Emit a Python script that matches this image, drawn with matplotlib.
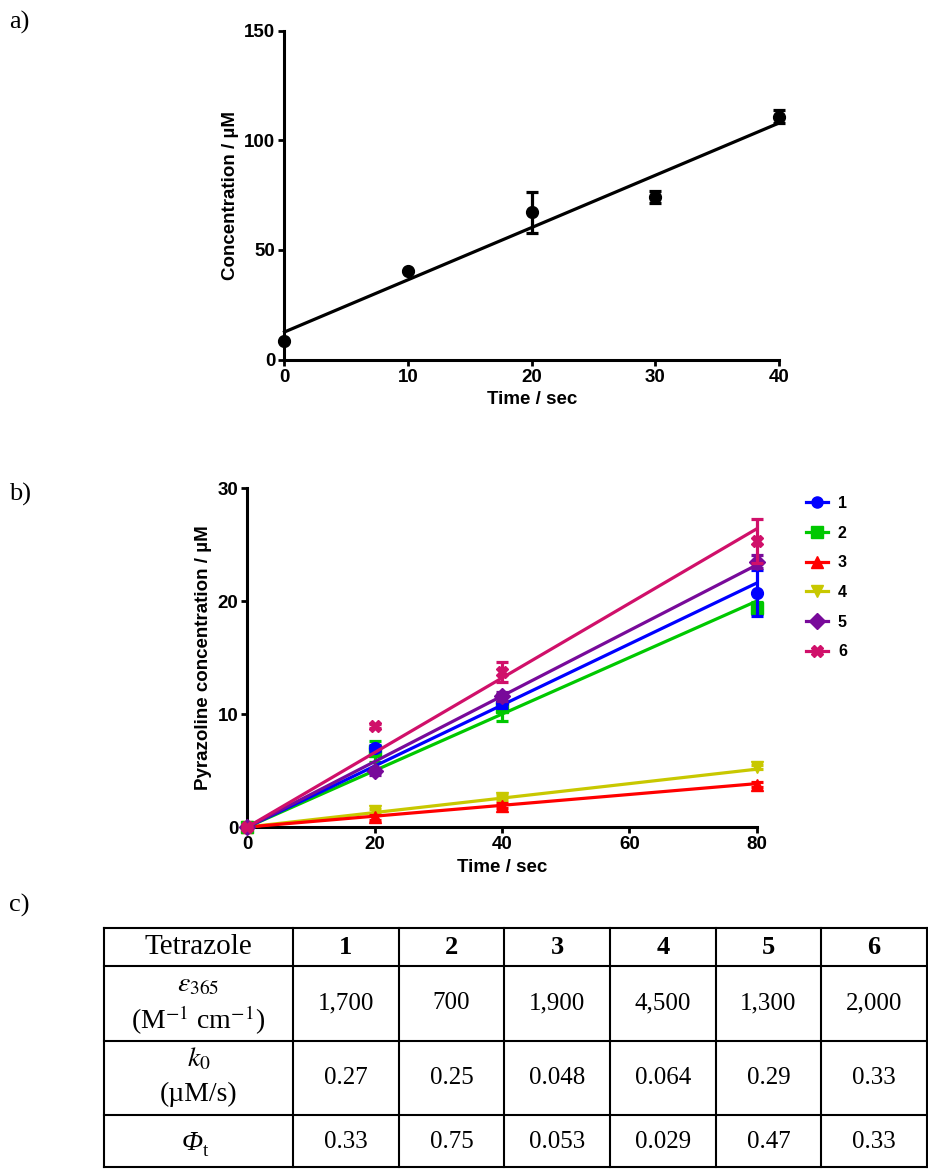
import numpy as np
import matplotlib
matplotlib.use("Agg")
import matplotlib.pyplot as plt
from matplotlib.lines import Line2D

# ---------------- data ----------------
# panel a
time_a = [0, 10, 20, 30, 40]
conc_a = [8.5, 40.5, 67.1, 74.2, 110.8]
err_a = [0.0, 0.0, 9.4, 2.6, 2.9]

# panel b
time_b = [0, 20, 40, 80]
labels_b = ["1", "2", "3", "4", "5", "6"]
conc_1 = [0, 7.0, 11.0, 20.7]
conc_2 = [0, 6.7, 10.6, 19.4]
conc_3 = [0, 0.85, 1.9, 3.75]
conc_4 = [0, 1.4, 2.6, 5.3]
conc_5 = [0, 4.95, 11.6, 23.5]
conc_6 = [0, 8.95, 13.7, 25.3]
err_1 = [0, 0.3, 0.5, 2.05]
err_2 = [0, 0.9, 1.2, 0.5]
err_3 = [0, 0.2, 0.2, 0.2]
err_4 = [0, 0.2, 0.2, 0.2]
err_5 = [0, 0.3, 0.4, 0.6]
err_6 = [0, 0.2, 0.9, 1.95]

# table c
tetrazoles = ["1", "2", "3", "4", "5", "6"]
eps_365 = ["1,700", "700", "1,900", "4,500", "1,300", "2,000"]
k0_vals = [0.27, 0.25, 0.048, 0.064, 0.29, 0.33]
k0_text = ["0.27", "0.25", "0.048", "0.064", "0.29", "0.33"]
phi_t = ["0.33", "0.75", "0.053", "0.029", "0.47", "0.33"]

# ---------------- style ----------------
plt.rcParams["font.family"] = ["Liberation Sans", "DejaVu Sans"]
plt.rcParams["font.weight"] = "normal"
plt.rcParams["mathtext.fontset"] = "stix"

colors_b = ["#0000FF", "#00C800", "#FF0000", "#C8C800", "#780A9A", "#D0106A"]
markers_b = ["o", "s", "^", "v", "D", "X"]

fig = plt.figure(figsize=(9.29, 11.69), dpi=100)

LAB_FS = 13.5
TICK_FS = 13.5

def style_axes(ax, fs):
    for s in ["top", "right"]:
        ax.spines[s].set_visible(False)
    for s in ["left", "bottom"]:
        ax.spines[s].set_linewidth(2.2)
    ax.tick_params(direction="out", length=4.5, width=2.0, labelsize=fs, pad=2)
    for lab in ax.get_xticklabels() + ax.get_yticklabels():
        lab.set_fontweight("bold")

# ---------------- panel a ----------------
axa = fig.add_axes([284.5 / 929, 1 - 359.5 / 1169, (779 - 284.5) / 929, (359.5 - 30.7) / 1169])
slope, intercept = np.polyfit(time_a, conc_a, 1)
xf = np.array([0, 40])
axa.plot(xf, slope * xf + intercept, color="black", lw=2.3, clip_on=False, zorder=3)
axa.errorbar(time_a, conc_a, yerr=err_a, fmt="o", color="black", ms=8.5,
             elinewidth=2.3, capsize=4.5, capthick=2.3, clip_on=False, zorder=4)
axa.set_xlim(0, 40)
axa.set_ylim(0, 150)
axa.set_xticks([0, 10, 20, 30, 40])
axa.set_yticks([0, 50, 100, 150])
axa.set_xlabel("Time / sec", fontsize=LAB_FS, fontweight="bold", labelpad=4)
axa.set_ylabel("Concentration / µM", fontsize=LAB_FS, fontweight="bold", labelpad=4)
style_axes(axa, TICK_FS)

# ---------------- panel b ----------------
axb = fig.add_axes([247.5 / 929, 1 - 827 / 1169, (756.5 - 247.5) / 929, (827 - 488.3) / 1169])
concs = [conc_1, conc_2, conc_3, conc_4, conc_5, conc_6]
errs = [err_1, err_2, err_3, err_4, err_5, err_6]
order = [3, 2, 1, 0, 4, 5]
tf = np.array([0, 80])
handles = []
for i in range(6):
    c = colors_b[i]
    z = 3 + order.index(i)
    axb.plot(tf, k0_vals[i] * tf, color=c, lw=2.3, clip_on=False, zorder=z)
    axb.errorbar(time_b, concs[i], yerr=errs[i], fmt=markers_b[i], color=c, ms=8.5,
                 elinewidth=2.3, capsize=4, capthick=2.3, clip_on=False, zorder=z + 0.5)
    handles.append(Line2D([], [], color=c, marker=markers_b[i], ms=8, lw=2.3))
axb.set_xlim(0, 80)
axb.set_ylim(0, 30)
axb.set_xticks([0, 20, 40, 60, 80])
axb.set_yticks([0, 10, 20, 30])
axb.set_xlabel("Time / sec", fontsize=LAB_FS, fontweight="bold", labelpad=4)
axb.set_ylabel("Pyrazoline concentration / µM", fontsize=LAB_FS, fontweight="bold", labelpad=4)
style_axes(axb, TICK_FS)
leg = fig.legend(handles, labels_b, loc="upper left", bbox_to_anchor=(806 / 929, 1 - 496 / 1169),
                 frameon=False, fontsize=11.5, handlelength=1.4, handletextpad=0.6,
                 labelspacing=0.92, borderaxespad=0, borderpad=0)
for t in leg.get_texts():
    t.set_fontweight("bold")

# ---------------- overlay: panel letters & table ----------------
ov = fig.add_axes([0, 0, 1, 1], zorder=-1)
ov.set_xlim(0, 929)
ov.set_ylim(1169, 0)
ov.axis("off")

serif = ["Liberation Serif", "DejaVu Serif"]
for lab, y in [("a)", 22), ("b)", 494), ("c)", 905)]:
    ov.text(9, y, lab, fontsize=19, family=serif, ha="left", va="center")

col_edges = [104, 293, 398.7, 504.3, 610, 715.7, 821.3, 927]
row_edges = [928.3, 965.7, 1040.7, 1115, 1167]
for x in col_edges:
    ov.plot([x, x], [row_edges[0], row_edges[-1]], color="black", lw=1.5, solid_capstyle="projecting")
for y in row_edges:
    ov.plot([col_edges[0], col_edges[-1]], [y, y], color="black", lw=1.5, solid_capstyle="projecting")

fs_num = 18
fs_c0 = 20
xc0 = (col_edges[0] + col_edges[1]) / 2
ov.text(xc0, 947, "Tetrazole", fontsize=21, family=serif, ha="center", va="center")
ov.text(xc0, 985, r"$\varepsilon_{365}$", fontsize=fs_c0, family=serif, ha="center", va="center")
ov.text(xc0, 1020, r"(M$^{-1}$ cm$^{-1}$)", fontsize=fs_c0, family=serif, ha="center", va="center")
ov.text(xc0, 1059, r"$k_0$", fontsize=fs_c0, family=serif, ha="center", va="center")
ov.text(xc0, 1094, "(µM/s)", fontsize=fs_c0, family=serif, ha="center", va="center")
ov.text(xc0 + 4, 1144, "Φ", fontsize=fs_c0, family=serif, style="italic", ha="right", va="center")
ov.text(xc0 + 4, 1151, "t", fontsize=fs_c0 * 0.68, family=serif, ha="left", va="center")

for j in range(6):
    xc = (col_edges[j + 1] + col_edges[j + 2]) / 2
    ov.text(xc, 947, tetrazoles[j], fontsize=19, family=serif, fontweight="bold", ha="center", va="center")
    ov.text(xc, 1003, eps_365[j], fontsize=fs_num, family=serif, ha="center", va="center")
    ov.text(xc, 1078, k0_text[j], fontsize=fs_num, family=serif, ha="center", va="center")
    ov.text(xc, 1142, phi_t[j], fontsize=fs_num, family=serif, ha="center", va="center")

fig.savefig("out.png", dpi=100)
